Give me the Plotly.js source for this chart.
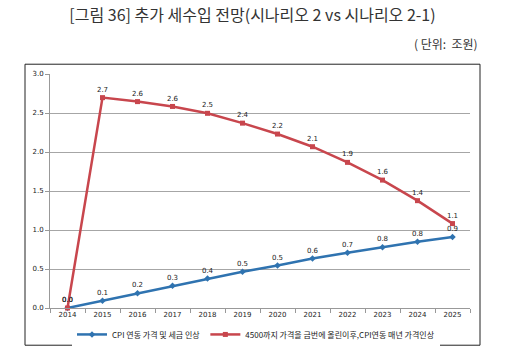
<!DOCTYPE html>
<html>
<head>
<meta charset="utf-8">
<script src="https://cdn.plot.ly/plotly-3.0.1.min.js"></script>
<style>html,body{margin:0;padding:0;background:#fff;}#chart{width:505px;height:361px;}</style>
</head>
<body>
<div id="chart"></div>
<script>
const years = ['2014','2015','2016','2017','2018','2019','2020','2021','2022','2023','2024','2025'];
const cpiValues = [0.0, 0.093, 0.189, 0.286, 0.377, 0.465, 0.546, 0.634, 0.709, 0.78, 0.85, 0.91];
const cpiLabels = ['0.0','0.1','0.2','0.3','0.4','0.5','0.5','0.6','0.7','0.8','0.8','0.9'];
const oneShotValues = [0.0, 2.697, 2.646, 2.584, 2.496, 2.37, 2.23, 2.068, 1.867, 1.64, 1.376, 1.082];
const oneShotLabels = ['0.0','2.7','2.6','2.6','2.5','2.4','2.2','2.1','1.9','1.6','1.4','1.1'];
const seriesNames = ['CPI 연동 가격 및 세금 인상', '4500까지 가격을 금번에 올린이후,CPI연동 매년 가격인상'];
const yTicks = [0, 0.5, 1.0, 1.5, 2.0, 2.5, 3.0];
const yTickText = ['0.0','0.5','1.0','1.5','2.0','2.5','3.0'];

const fontFam = 'DejaVu Sans, Noto Sans CJK KR, sans-serif';

const traces = [
  {
    x: years, y: cpiValues, name: seriesNames[0], type: 'scatter', mode: 'lines+markers+text',
    text: cpiLabels, textposition: 'top center',
    textfont: {size: 7, color: '#222', family: fontFam},
    line: {color: '#2f73b0', width: 2.5},
    marker: {symbol: 'diamond', size: 5, color: '#2f73b0'},
    cliponaxis: false
  },
  {
    x: years, y: oneShotValues, name: seriesNames[1], type: 'scatter', mode: 'lines+markers+text',
    text: oneShotLabels, textposition: 'top center',
    textfont: {size: 7, color: '#222', family: fontFam},
    line: {color: '#c8464d', width: 2.5},
    marker: {symbol: 'square', size: 5, color: '#c8464d'},
    cliponaxis: false
  }
];

const layout = {
  width: 505, height: 361,
  margin: {l: 50, r: 35, t: 74, b: 48},
  paper_bgcolor: '#fff', plot_bgcolor: '#fff',
  font: {family: fontFam, size: 7, color: '#222'},
  showlegend: true,
  title: {
    text: '[그림 36] 추가 세수입 전망(시나리오 2 vs 시나리오 2-1)',
    font: {family: 'Noto Sans CJK KR, sans-serif', size: 16, color: '#333'},
    x: 0.5, xref: 'container', xanchor: 'center',
    y: 1 - 15/361, yref: 'container', yanchor: 'middle'
  },
  xaxis: {
    type: 'category', range: [-0.5, 11.5],
    showgrid: false, showline: true, linecolor: '#999', linewidth: 1,
    ticks: 'outside', tickson: 'boundaries', ticklen: 4, tickcolor: '#999',
    tickfont: {size: 7, color: '#222', family: fontFam},
    fixedrange: true
  },
  yaxis: {
    range: [0, 3.0], tickvals: yTicks, ticktext: yTickText,
    showgrid: true, gridcolor: '#a6a6a6', gridwidth: 1,
    showline: true, linecolor: '#999', linewidth: 1,
    ticks: 'outside', ticklen: 4, tickcolor: '#999',
    zeroline: false,
    tickfont: {size: 7, color: '#222', family: fontFam},
    fixedrange: true
  },
  legend: {
    orientation: 'h', x: (72-50)/420, xanchor: 'left', y: (313-340)/239, yanchor: 'middle',
    font: {size: 8, color: '#222', family: 'Noto Sans CJK KR, sans-serif'},
    itemwidth: 30, tracegroupgap: 0
  },
  shapes: [{
    type: 'rect', xref: 'paper', yref: 'paper',
    x0: (25-50)/420, x1: (480-50)/420, y0: (313-351)/239, y1: (313-64)/239,
    line: {color: '#222', width: 1}, fillcolor: 'rgba(0,0,0,0)', layer: 'below'
  }],
  annotations: [{
    text: '( 단위:  조원)', xref: 'paper', yref: 'paper',
    x: (480-50)/420, xanchor: 'right', y: (313-43)/239, yanchor: 'middle',
    showarrow: false, font: {family: 'Noto Sans CJK KR, sans-serif', size: 12, color: '#333'}
  }]
};

Plotly.newPlot('chart', traces, layout, {staticPlot: true, displayModeBar: false});
</script>
</body>
</html>
